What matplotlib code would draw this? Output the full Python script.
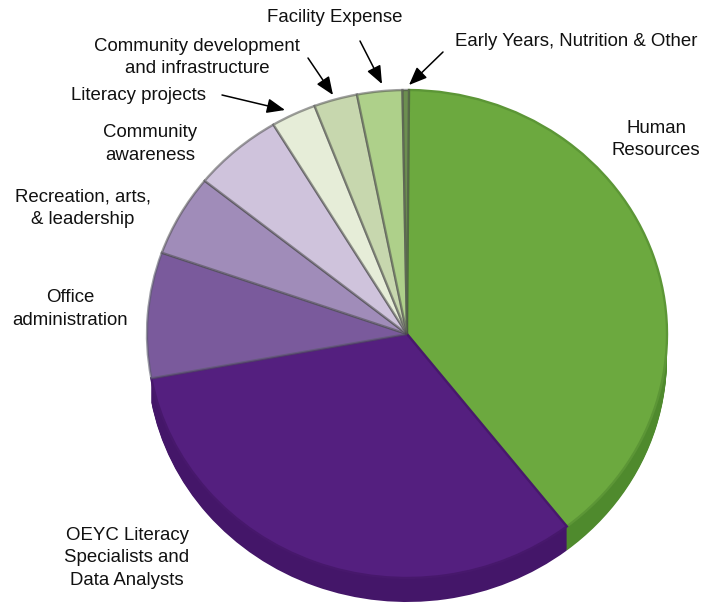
import matplotlib
matplotlib.use("Agg")
import matplotlib.pyplot as plt

categories = ["Human Resources", "OEYC Literacy Specialists and Data Analysts",
              "Office administration", "Recreation, arts, & leadership",
              "Community awareness", "Literacy projects",
              "Community development and infrastructure", "Facility Expense",
              "Early Years, Nutrition & Other"]
values = [39.3, 32.6, 8.3, 5.4, 5.6, 2.8, 2.7, 2.8, 0.4]
colors = ["#6CA93F", "#541F7F", "#7A5A9C", "#A08CB9", "#CFC3DC",
          "#E6EDD8", "#C7D7AE", "#AED08A", "#6C8F50"]
side_colors = ["#4F8A2D", "#441669", "#5E4480", "#7F6E96", "#A89DB3",
               "#B8BEAD", "#A0AD8B", "#8BA66E", "#567240"]
edge_colors = ["#5C9636", "#47186C", "#5A5A6A99", "#4a4a4a88", "#4a4a4a88",
               "#4a4a4a88", "#4a4a4a88", "#4a4a4a88", "#4a4a4a88"]

W, H = 715, 603
CX, CY, RX, RY, DEPTH = 407, 334, 260, 244, 24

plt.rcParams["font.family"] = ["Liberation Sans", "DejaVu Sans"]
fig = plt.figure(figsize=(W / 100, H / 100), dpi=100)
ax = fig.add_axes([0, 0, 1, 1])

# extruded side: only the two large front slices show a wall
for d in range(DEPTH, 0, -1):
    w, _ = ax.pie(values, colors=side_colors, startangle=89.56, counterclock=False,
                  center=(0, -d / RY), wedgeprops=dict(linewidth=0))
    for i, p in enumerate(w):
        p.set_zorder(1)
        p.set_visible(i < 2)

# top face
wedges, _ = ax.pie(values, colors=colors, startangle=89.56, counterclock=False,
                   wedgeprops=dict(linewidth=1.7))
for i, p in enumerate(wedges):
    p.set_zorder(2)
    p.set_edgecolor(edge_colors[i])

ax.set_aspect("auto")
ax.set_xlim(-CX / RX, (W - CX) / RX)
ax.set_ylim((CY - H) / RY, CY / RY)
ax.axis("off")


def px(x, y):
    return (x - CX) / RX, (CY - y) / RY


FS = 13.4
labels = [
    (656, 139.5, "Human\nResources"),
    (127, 558, "OEYC Literacy\nSpecialists and\nData Analysts"),
    (70, 309, "Office\nadministration"),
    (83, 208.5, "Recreation, arts,\n& leadership"),
    (150, 144, "Community\nawareness"),
    (138.5, 96, "Literacy projects"),
    (197, 57.5, "Community development\nand infrastructure"),
    (334.5, 18, "Facility Expense"),
    (576.5, 41, "Early Years, Nutrition & Other"),
]
for x, y, s in labels:
    ax.text(*px(x, y), s, ha="center", va="center", fontsize=FS, color="#111111",
            linespacing=1.4, zorder=5)

arrows = [
    ((360, 41), (382, 84)),
    ((308, 58), (333, 95)),
    ((222, 95), (285, 110)),
    ((443, 52), (409, 85)),
]
for start, end in arrows:
    ax.annotate("", xy=px(*end), xytext=px(*start),
                arrowprops=dict(arrowstyle="-|>,head_length=1.1,head_width=0.45",
                                color="black", lw=1.1, shrinkA=0, shrinkB=0),
                zorder=5)

fig.savefig("out.png", dpi=100)
